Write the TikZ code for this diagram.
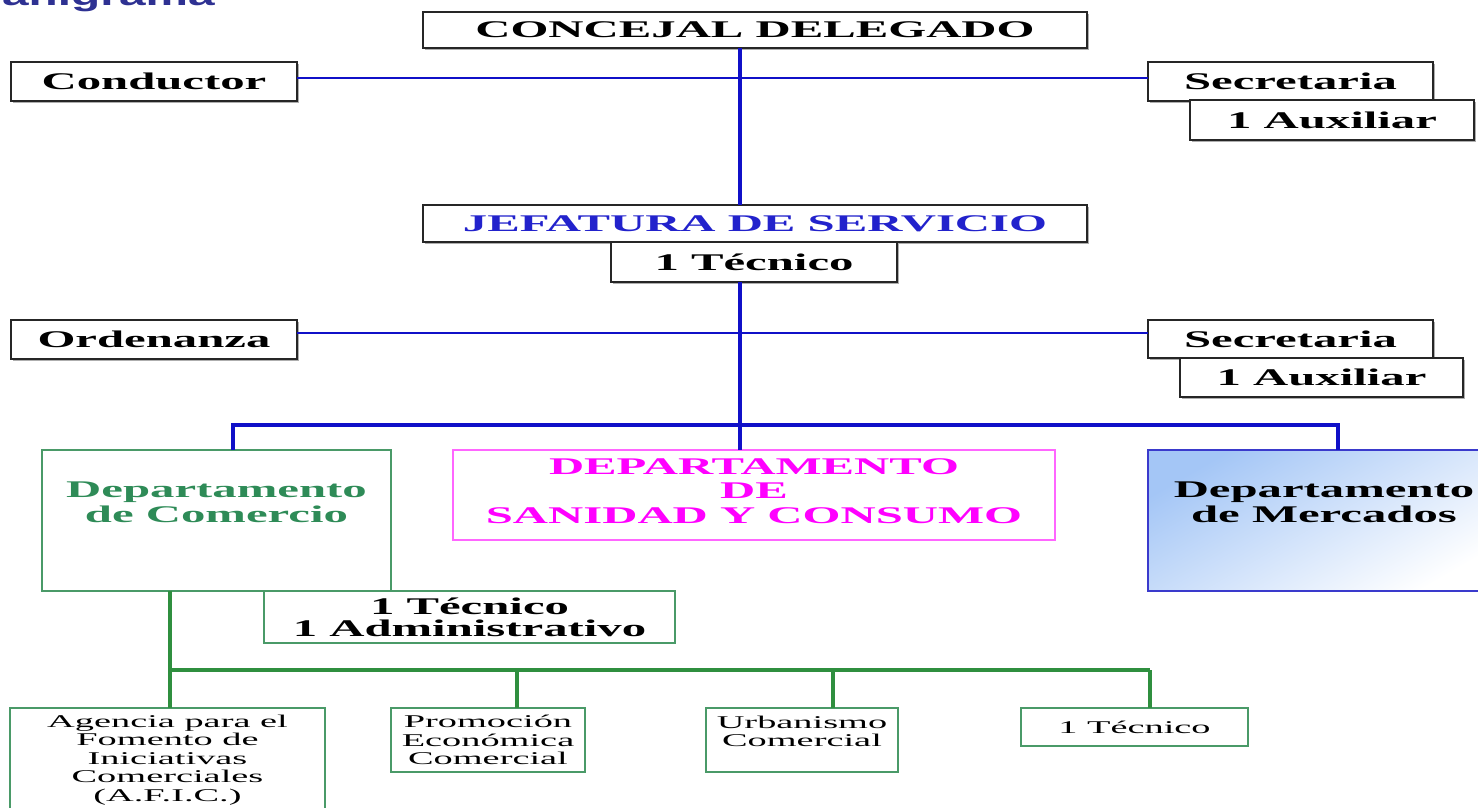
\documentclass[tikz,border=0pt]{standalone}
\usepackage{fontspec}
\usetikzlibrary{shadows}
\setmainfont{Liberation Serif}
\newfontfamily\wideserif{Liberation Serif}[FakeStretch=2.04]
\newfontfamily\widereg{Liberation Serif}[FakeStretch=2.14]
\newfontfamily\widesans{Liberation Sans}[FakeStretch=1.6]

\definecolor{lineblue}{HTML}{1010C8}
\definecolor{textblue}{HTML}{2222CC}
\definecolor{comgreen}{HTML}{2E8B57}
\definecolor{linegreen}{HTML}{2F8F3F}
\definecolor{boxgreen}{HTML}{4A9A68}
\definecolor{sanmag}{HTML}{FF00FF}
\definecolor{sanborder}{HTML}{FF66FF}
\definecolor{merblue}{HTML}{3A3ACC}
\definecolor{merfill}{HTML}{A4C6F6}
\definecolor{titleblue}{HTML}{2E3192}

\begin{document}
\begin{tikzpicture}[x=0.02cm, y=-0.02cm,
	boxsize/.style 2 args={minimum width=#1*0.2mm, minimum height=#2*0.2mm},
	staff/.style={draw=black!85, line width=1.1pt, fill=white, inner sep=0pt, outer sep=0pt, align=center, font=\wideserif\bfseries\fontsize{13.6}{13.9}\selectfont},
	shadowed/.style={drop shadow={shadow xshift=0.45mm, shadow yshift=-0.45mm, fill=black!45, opacity=0.7}},
	deptlabel/.style={inner sep=0pt, align=center, font=\wideserif\bfseries\fontsize{13.6}{14.2}\selectfont},
	unitbox/.style={draw=boxgreen, line width=1.1pt, fill=white, inner sep=0pt, outer sep=0pt, align=center, font=\widereg\fontsize{10.2}{10.5}\selectfont},
	unitlabel/.style={inner sep=0pt, align=center, font=\widereg\fontsize{10.2}{10.5}\selectfont},
	mainline/.style={draw=lineblue, line width=2.8pt},
	sideline/.style={draw=lineblue, line width=1.3pt},
	greenline/.style={draw=linegreen, line width=2.3pt}]
	\useasboundingbox (0,0) rectangle (1478,808);

	\node[anchor=base east, inner sep=0pt, text=titleblue, font=\widesans\bfseries\fontsize{17}{17}\selectfont] (title) at (215,6) {Organigrama};

	% upper staff
	\node[staff, shadowed, boxsize={664}{36}] (conc) at (755,30) {CONCEJAL DELEGADO};
	\node[staff, shadowed, boxsize={286}{39}] (cond) at (154,81.5) {Conductor};
	\node[staff, shadowed, boxsize={285}{39}] (sec1) at (1290.5,81.5) {Secretaria};
	\node[staff, shadowed, boxsize={284}{40}] (aux1) at (1332,120) {1 Auxiliar};

	\node[staff, shadowed, boxsize={664}{37}, text=textblue] (jef) at (755,223.5) {JEFATURA DE SERVICIO};
	\node[staff, shadowed, boxsize={286}{40}] (tec1) at (754,262) {1 Técnico};
	\node[staff, shadowed, boxsize={286}{39}] (ord) at (154,339.5) {Ordenanza};
	\node[staff, shadowed, boxsize={285}{38}] (sec2) at (1290.5,339) {Secretaria};
	\node[staff, shadowed, boxsize={283}{39}] (aux2) at (1321.5,377.5) {1 Auxiliar};

	% departments
	\node[staff, draw=boxgreen, boxsize={349}{141}] (com) at (216.5,520.5) {};
	\node[deptlabel, text=comgreen] (comlbl) at (216.5,502) {Departamento\\de Comercio};
	\node[staff, draw=sanborder, boxsize={602}{90}] (san) at (754,495) {};
	\node[deptlabel, text=sanmag, font=\wideserif\bfseries\fontsize{13.6}{13.9}\selectfont] (sanlbl) at (754,491) {DEPARTAMENTO\\DE\\SANIDAD Y CONSUMO};
	\node[staff, draw=merblue, top color=merfill, bottom color=white, shading angle=30, boxsize={352}{141}] (mer) at (1324,520.5) {};
	\node[deptlabel] (merlbl) at (1324,502) {Departamento\\de Mercados};
	\node[staff, draw=boxgreen, font=\wideserif\bfseries\fontsize{13.6}{12.6}\selectfont, boxsize={411}{52}] (tec2) at (469.5,617) {1 Técnico\\1 Administrativo};

	% units of Comercio
	\node[unitbox, boxsize={315}{104}] (afic) at (167.5,760) {Agencia para el\\Fomento de\\Iniciativas\\Comerciales\\(A.F.I.C.)};
	\node[unitbox, boxsize={194}{64}] (prom) at (488,740) {Promoción\\Económica\\Comercial};
	\node[unitbox, boxsize={192}{64}] (urb) at (802,740) {};
	\node[unitlabel] (urblbl) at (802,731.5) {Urbanismo\\Comercial};
	\node[unitbox, boxsize={227}{38}] (tec3) at (1134.5,727) {1 Técnico};

	% connectors
	\coordinate (spine) at (740,0);
	\draw[mainline] (conc.south -| spine) -- (jef.north -| spine);
	\draw[mainline] (tec1.south -| spine) -- (san.north -| spine);
	\draw[sideline] ([yshift=0.7mm]cond.east) -- ([yshift=0.7mm]cond.east -| sec1.west);
	\draw[sideline] ([yshift=1.3mm]ord.east) -- ([yshift=1.3mm]ord.east -| sec2.west);

	\coordinate (brl) at (233,425);
	\coordinate (brr) at (1338,425);
	\draw[mainline] (com.north -| brl) -- (brl) -- (brr) -- (mer.north -| brr);

	\coordinate (gl) at (170,670);
	\coordinate (g2) at (517,670);
	\coordinate (g3) at (833,670);
	\coordinate (g4) at (1150,670);
	\draw[greenline] (com.south -| gl) -- (afic.north -| gl);
	\draw[greenline] (gl) -- (g4);
	\foreach \d/\n in {g2/prom, g3/urb, g4/tec3}
		\draw[greenline] (\d) -- (\n.north -| \d);
\end{tikzpicture}
\end{document}
